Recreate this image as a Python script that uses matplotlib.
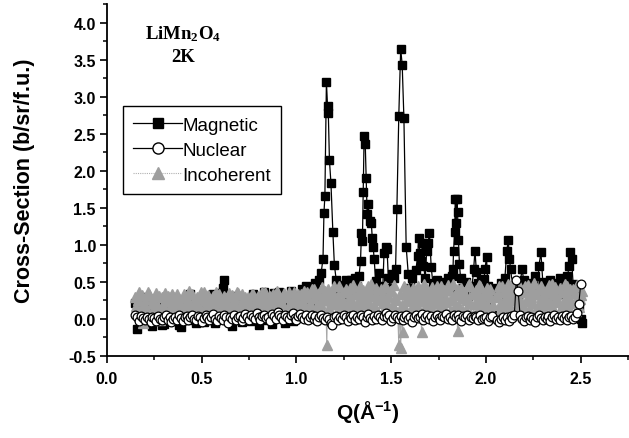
import numpy as np
import matplotlib
matplotlib.use("Agg")
import matplotlib.pyplot as plt
from matplotlib.lines import Line2D
from matplotlib.ticker import MultipleLocator

plt.rcParams["font.family"] = ["Liberation Sans", "DejaVu Sans"]
plt.rcParams["mathtext.fontset"] = "custom"
plt.rcParams["mathtext.bf"] = "Liberation Sans:bold"
plt.rcParams["mathtext.sf"] = "Liberation Serif:bold"
plt.rcParams["mathtext.rm"] = "Liberation Sans"

# Q grid of the nuclear / incoherent scans (step 0.01, no data at 2.04-2.05)
q_grid = np.round(np.concatenate([np.arange(0.15, 2.035, 0.01),
                                  np.arange(2.06, 2.505, 0.01)]), 3)
# second incoherent pass, offset by half a step
q_grid_b = np.round(q_grid + 0.005, 3)

nuclear = [
    0.05, 0.02, -0.03, 0.04, 0.01, -0.02, 0.03, 0.00, -0.04, 0.02,
    0.01, -0.03, 0.04, 0.00, -0.02, 0.03, 0.06, -0.01, 0.02, -0.04,
    0.00, 0.03, -0.02, 0.05, 0.01, -0.03, 0.02, 0.04, -0.01, 0.03,
    0.06, 0.00, -0.02, 0.04, 0.02, -0.04, 0.01, 0.05, 0.03, -0.01,
    0.02, 0.07, 0.00, -0.03, 0.04, 0.01, -0.02, 0.05, 0.02, -0.05,
    0.03, 0.00, 0.06, -0.01, 0.02, 0.04, -0.03, 0.01, 0.07, 0.02,
    -0.02, 0.05, 0.03, 0.00, 0.08, 0.02, -0.01, 0.04, 0.06, 0.01,
    0.03, -0.03, 0.07, 0.04, 0.00, 0.09, 0.05, 0.02, -0.02, 0.06,
    0.03, 0.00, 0.05, 0.08, 0.01, -0.02, 0.04, 0.07, 0.02, 0.00,
    0.05, -0.01, 0.03, 0.06, 0.00, 0.04, -0.03, 0.02, 0.05, 0.01,
    -0.02, 0.03, 0.00, -0.05, -0.08, 0.02, 0.04, -0.01, 0.03, 0.00,
    0.05, 0.02, -0.03, 0.04, 0.01, 0.06, -0.02, 0.03, 0.00, 0.05,
    0.02, -0.04, 0.03, 0.07, 0.01, -0.02, 0.04, 0.00, 0.06, 0.02,
    -0.01, 0.04, 0.08, 0.02, 0.05, -0.03, 0.01, 0.06, 0.03, 0.00,
    0.04, -0.02, 0.02, 0.05, 0.00, 0.03, -0.04, 0.02, 0.06, 0.01,
    0.03, 0.07, -0.01, 0.02, 0.05, 0.00, 0.04, -0.03, 0.03, 0.06,
    0.01, -0.02, 0.04, 0.02, 0.07, 0.00, 0.03, -0.01, 0.05, 0.02,
    0.06, 0.00, -0.03, 0.04, 0.02, 0.05, -0.01, 0.03, 0.01, 0.04,
    0.02, -0.02, 0.05, 0.00, 0.01, 0.03, -0.03, 0.02, 0.04,
    -0.02, -0.04, 0.00, 0.03, -0.01, 0.02, -0.03, 0.04, 0.01, 0.06,
    0.52, 0.38, 0.05, 0.00, -0.03, 0.02, 0.04, -0.01, 0.03, 0.00,
    -0.04, 0.02, 0.05, 0.01, -0.02, 0.03, 0.00, 0.04, -0.03, 0.02,
    0.05, 0.00, 0.03, -0.02, 0.04, 0.01, 0.06, -0.01, 0.02, 0.04,
    0.00, 0.03, 0.08, 0.20, 0.47,
]

incoherent_a = [
    0.30, 0.08, 0.36, 0.15, -0.05, 0.27, 0.12, 0.33, 0.02, 0.21,
    0.10, 0.35, 0.18, -0.02, 0.29, 0.07, 0.24, 0.31, 0.04, 0.16,
    0.28, 0.09, 0.34, 0.13, 0.22, 0.01, 0.30, 0.17, 0.25, 0.06,
    0.33, 0.14, 0.21, 0.03, 0.29, 0.11, 0.36, 0.19, 0.08, 0.26,
    0.15, 0.31, 0.05, 0.23, 0.34, 0.12, 0.20, 0.02, 0.28, 0.17,
    0.09, 0.32, 0.22, 0.13, 0.35, 0.04, 0.26, 0.18, 0.30, 0.10,
    0.24, 0.07, 0.33, 0.16, 0.28, 0.11, 0.21, 0.37, 0.06, 0.25,
    0.19, 0.31, 0.10, 0.27, 0.03, 0.34, 0.15, 0.23, 0.08, 0.30,
    0.14, 0.36, 0.20, 0.05, 0.29, 0.17, 0.33, 0.09, 0.26, 0.38,
    0.12, 0.31, 0.22, 0.40, 0.07, 0.28, 0.18, 0.35, 0.10, 0.25,
    0.38, -0.35, 0.15, 0.32, 0.05, 0.44, 0.20, 0.27, 0.09, 0.36,
    0.16, 0.41, 0.03, 0.30, 0.22, 0.46, 0.13, 0.34, 0.07, 0.28,
    0.39, 0.11, 0.25, 0.45, 0.02, 0.31, 0.19, 0.42, 0.08, 0.27,
    0.35, 0.14, 0.43, 0.22, 0.05, 0.38, 0.17, 0.29, 0.10, -0.35,
    -0.39, -0.18, 0.33, 0.12, 0.40, 0.24, 0.06, 0.37, 0.19, 0.44,
    0.09, -0.18, 0.30, 0.15, 0.41, 0.26, 0.04, 0.36, 0.21, 0.45,
    0.13, 0.32, 0.07, 0.39, 0.23, 0.46, 0.11, 0.28, 0.02, 0.35,
    -0.16, 0.18, 0.42, 0.10, 0.31, 0.25, 0.47, 0.06, 0.34, 0.20,
    0.38, 0.12, 0.44, 0.27, 0.03, 0.33, 0.17, 0.40, 0.08,
    0.30, 0.45, 0.14, 0.37, 0.22, 0.05, 0.41, 0.26, 0.48, 0.11,
    0.33, 0.19, 0.43, 0.07, 0.36, 0.24, 0.46, 0.13, 0.30, 0.40,
    0.09, 0.35, 0.21, 0.44, 0.15, 0.31, 0.04, 0.39, 0.26, 0.47,
    0.12, 0.34, 0.23, 0.42, 0.06, 0.37, 0.18, 0.45, 0.28, 0.10,
    0.40, 0.21, 0.46, 0.16, 0.32,
]

incoherent_b = [
    0.18, 0.25, 0.04, 0.32, 0.20, 0.11, 0.37, 0.06, 0.27, 0.14,
    0.23, 0.00, 0.31, 0.12, 0.19, 0.35, 0.09, 0.26, 0.15, 0.33,
    0.05, 0.21, 0.28, 0.16, 0.03, 0.34, 0.10, 0.24, 0.38, 0.13,
    0.20, 0.07, 0.30, 0.17, 0.36, 0.09, 0.25, 0.01, 0.32, 0.14,
    0.27, 0.19, 0.36, 0.08, 0.26, 0.03, 0.31, 0.14, 0.22, 0.35,
    0.18, 0.06, 0.28, 0.36, 0.11, 0.23, 0.33, 0.02, 0.20, 0.29,
    0.12, 0.34, 0.18, 0.05, 0.31, 0.22, 0.09, 0.27, 0.36, 0.15,
    0.04, 0.24, 0.33, 0.16, 0.38, 0.08, 0.28, 0.19, 0.35, 0.12,
    0.31, 0.07, 0.25, 0.37, 0.13, 0.22, 0.04, 0.34, 0.18, 0.29,
    0.36, 0.16, 0.05, 0.28, 0.41, 0.14, 0.33, 0.22, 0.43, 0.08,
    0.26, 0.40, 0.10, 0.21, 0.35, 0.02, 0.30, 0.45, 0.17, 0.24,
    0.37, 0.08, 0.27, 0.42, 0.15, 0.33, 0.06, 0.23, 0.44, 0.18,
    0.29, 0.04, 0.36, 0.20, 0.47, 0.12, 0.34, 0.26, 0.03, 0.40,
    0.21, 0.44, 0.09, 0.31, 0.38, 0.16, 0.46, 0.25, 0.03, 0.33,
    0.19, 0.45, 0.08, 0.27, 0.35, 0.14, 0.42, 0.22, 0.31, 0.05,
    0.38, 0.24, 0.47, 0.12, 0.33, 0.19, 0.43, 0.07, 0.29, 0.36,
    0.21, 0.44, 0.15, 0.30, 0.05, 0.39, 0.26, 0.47, 0.17, 0.32,
    0.41, 0.09, 0.28, 0.37, 0.14, 0.45, 0.22, 0.33, 0.03, 0.39,
    0.25, 0.46, 0.16, 0.35, 0.21, 0.42, 0.10, 0.30, 0.19,
    0.37, 0.20, 0.44, 0.09, 0.31, 0.47, 0.16, 0.35, 0.25, 0.42,
    0.05, 0.28, 0.39, 0.18, 0.45, 0.26, 0.11, 0.37, 0.22, 0.48,
    0.33, 0.14, 0.41, 0.27, 0.06, 0.38, 0.20, 0.46, 0.12, 0.34,
    0.43, 0.25, 0.08, 0.36, 0.19, 0.47, 0.30, 0.14, 0.40, 0.22,
    0.35, 0.11, 0.44, 0.27, 0.38,
]

# Magnetic scattering: regular steps below 1.10, finer steps through the peaks
q_mag_low = q_grid[q_grid < 1.095]
mag_low = [
    0.22, -0.14, 0.05, 0.30, 0.12, 0.26, -0.02, 0.18, 0.08, -0.10,
    0.10, 0.21, 0.02, 0.15, -0.08, -0.07, 0.24, 0.12, -0.03, 0.30,
    0.09, 0.28, 0.26, -0.08, -0.11, 0.07, 0.22, 0.11, -0.01, 0.33,
    0.04, 0.25, -0.06, 0.13, 0.09, 0.20, -0.04, 0.15, 0.22, 0.06,
    0.18, 0.33, -0.05, 0.24, 0.08, 0.35, 0.42, 0.53, 0.30, 0.10,
    0.19, -0.09, 0.13, 0.31, 0.05, 0.16, -0.04, 0.27, 0.17, 0.12,
    0.20, -0.03, 0.34, 0.02, 0.15, -0.08, 0.29, 0.06, 0.36, -0.02,
    0.14, 0.23, -0.07, 0.35, 0.17, 0.04, 0.37, 0.12, 0.26, -0.05,
    0.19, 0.24, 0.38, -0.03, 0.10, 0.22, 0.31, 0.18, 0.40, 0.27,
    0.45, 0.33, 0.24, 0.42, 0.36,
]
q_mag_high = [
    1.100, 1.110, 1.120, 1.130, 1.140, 1.145, 1.150, 1.158, 1.164, 1.168,
    1.174, 1.182, 1.192, 1.200, 1.210, 1.220, 1.230, 1.240, 1.250, 1.260,
    1.270, 1.280, 1.290, 1.300, 1.310, 1.320, 1.330, 1.338, 1.343, 1.348,
    1.352, 1.357, 1.363, 1.368, 1.373, 1.378, 1.387, 1.395, 1.400, 1.405,
    1.410, 1.418, 1.425, 1.435, 1.445, 1.455, 1.462, 1.470, 1.478, 1.485,
    1.495, 1.505, 1.515, 1.523, 1.530, 1.540, 1.550, 1.558, 1.567, 1.579,
    1.590, 1.600, 1.610, 1.620, 1.630, 1.640, 1.645, 1.652, 1.658, 1.664,
    1.670, 1.680, 1.687, 1.695, 1.702, 1.711, 1.720, 1.730, 1.740, 1.750,
    1.760, 1.770, 1.780, 1.790, 1.800, 1.810, 1.820, 1.826, 1.829, 1.835,
    1.838, 1.843, 1.847, 1.850, 1.855, 1.860, 1.866, 1.875, 1.885, 1.895,
    1.905, 1.915, 1.925, 1.935, 1.942, 1.950, 1.960, 1.970, 1.980, 1.990,
    1.995, 2.003, 2.010, 2.020, 2.030, 2.060, 2.070, 2.080, 2.090, 2.100,
    2.110, 2.118, 2.124, 2.130, 2.140, 2.150, 2.160, 2.170, 2.180, 2.190,
    2.200, 2.210, 2.220, 2.230, 2.240, 2.250, 2.260, 2.270, 2.280, 2.290,
    2.300, 2.310, 2.320, 2.330, 2.340, 2.350, 2.360, 2.370, 2.380, 2.390,
    2.400, 2.410, 2.420, 2.430, 2.440, 2.446, 2.452, 2.460, 2.470, 2.480,
    2.490, 2.500, 2.505,
]
mag_high = [
    0.48, 0.30, 0.52, 0.62, 0.81, 1.43, 1.66, 3.20, 2.87, 2.78,
    2.14, 1.83, 1.18, 0.73, 0.52, 0.41, 0.35, 0.46, 0.33, 0.52,
    0.41, 0.29, 0.53, 0.36, 0.55, 0.44, 0.58, 0.78, 1.16, 1.05,
    1.71, 2.47, 2.36, 1.90, 1.41, 1.55, 1.32, 1.30, 1.09, 0.97,
    0.81, 0.51, 0.35, 0.62, 0.45, 0.38, 0.89, 0.97, 0.94, 0.55,
    0.42, 0.60, 0.55, 0.67, 1.49, 2.74, 3.64, 3.43, 2.71, 0.97,
    0.61, 0.42, 0.55, 0.38, 0.66, 0.85, 1.09, 0.89, 0.78, 1.03,
    0.72, 0.55, 0.92, 1.03, 1.16, 0.70, 0.48, 0.36, 0.52, 0.41,
    0.47, 0.33, 0.50, 0.44, 0.55, 0.40, 0.58, 0.67, 0.92, 1.17,
    1.62, 1.30, 1.62, 1.44, 1.06, 0.74, 0.55, 0.42, 0.36, 0.50,
    0.31, 0.45, 0.38, 0.67, 0.92, 0.63, 0.48, 0.40, 0.52, 0.54,
    0.68, 0.83, 0.45, 0.30, 0.07, 0.42, 0.35, 0.48, 0.31, 0.55,
    0.92, 1.06, 0.81, 0.67, 0.45, 0.38, 0.50, 0.33, 0.46, 0.67,
    0.52, 0.40, 0.35, 0.49, 0.31, 0.44, 0.58, 0.36, 0.72, 0.90,
    0.50, 0.38, 0.45, 0.30, 0.52, 0.41, 0.34, 0.48, 0.37, 0.55,
    0.42, 0.33, 0.50, 0.58, 0.72, 0.90, 0.81, 0.47, 0.36, 0.44,
    0.18, 0.00, -0.05,
]
q_mag = np.concatenate([q_mag_low, q_mag_high])
magnetic = np.concatenate([mag_low, mag_high])

# both incoherent passes merged into one Q-ordered trace
q_inc = np.concatenate([q_grid, q_grid_b])
incoherent = np.concatenate([incoherent_a, incoherent_b])
order = np.argsort(q_inc, kind="stable")
q_inc, incoherent = q_inc[order], incoherent[order]

series_labels = ["Magnetic", "Nuclear", "Incoherent"]
x_ticks = [0.0, 0.5, 1.0, 1.5, 2.0, 2.5]
y_ticks = [-0.5, 0.0, 0.5, 1.0, 1.5, 2.0, 2.5, 3.0, 3.5, 4.0]

W, H = 629, 439
fig = plt.figure(figsize=(W / 100, H / 100), dpi=100)
ax = fig.add_axes([107 / W, 82 / H, 522 / W, 352 / H])

grey = "#9e9e9e"
ax.plot(q_mag, magnetic, color="black", lw=0.9, marker="s", ms=6.2,
        mfc="black", mec="black", zorder=2)
ax.plot(q_inc, incoherent, color="#a8a8a8", lw=0.8, marker="^",
        ms=7.2, mfc=grey, mec=grey, zorder=3)
ax.plot(q_grid, nuclear, color="black", lw=0.8, marker="o", ms=6.3,
        mfc="white", mec="black", mew=0.9, zorder=4)

ax.set_xlim(0, 2.755)
ax.set_ylim(-0.5, 4.25)
ax.set_xticks(x_ticks)
ax.set_yticks(y_ticks)
ax.xaxis.set_minor_locator(MultipleLocator(0.25))
ax.yaxis.set_minor_locator(MultipleLocator(0.25))
ax.set_xticklabels([f"{v:.1f}" for v in x_ticks])
ax.set_yticklabels([f"{v:.1f}" for v in y_ticks])

for side in ("top", "right"):
    ax.spines[side].set_visible(False)
for side in ("left", "bottom"):
    ax.spines[side].set_linewidth(1.3)

ax.tick_params(which="major", direction="out", length=5, width=1.2,
               labelsize=11.5, pad=3)
ax.tick_params(axis="x", which="major", pad=6)
ax.tick_params(which="minor", direction="out", length=3, width=1.1)
for lab in ax.get_xticklabels() + ax.get_yticklabels():
    lab.set_fontweight("bold")

fig.text(25 / W, 1 - 181 / H, "Cross-Section (b/sr/f.u.)", rotation=90,
         ha="center", va="center", fontsize=15.5, fontweight="bold")
fig.text(368 / W, 1 - 412 / H, r"$\mathbf{Q(\AA^{-1})}$",
         ha="center", va="center", fontsize=15)

fig.text(183 / W, 1 - 34 / H, r"$\mathsf{LiMn_2O_4}$",
         ha="center", va="center", fontsize=13.5)
fig.text(183 / W, 1 - 58 / H, "2K", ha="center", va="center",
         fontsize=13.5, fontweight="bold", family="Liberation Serif")

handles = [
    Line2D([], [], color="black", lw=0.9, marker="s", ms=7.5, mfc="black", mec="black"),
    Line2D([], [], color="black", lw=0.9, marker="o", ms=8, mfc="white", mec="black"),
    Line2D([], [], color="#b0b0b0", lw=0.8, ls=(0, (1, 1)), marker="^", ms=8.5,
           mfc=grey, mec=grey),
]
leg = ax.legend(handles, series_labels, loc="upper left",
                bbox_to_anchor=(0.0307, 0.710), borderaxespad=0,
                fontsize=13.5, frameon=True, fancybox=False,
                edgecolor="black", framealpha=1, handlelength=2.6,
                handletextpad=0.0, labelspacing=0.42, borderpad=0.55)
leg.get_frame().set_linewidth(1.0)

fig.savefig("out.png", dpi=100)
